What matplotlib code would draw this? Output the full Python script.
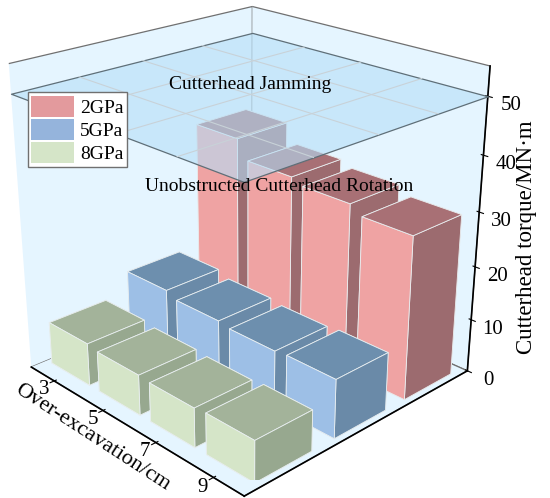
import matplotlib
matplotlib.use('Agg')
import matplotlib.pyplot as plt
from matplotlib.patches import Patch
from mpl_toolkits.mplot3d.art3d import Poly3DCollection

plt.rcParams['font.family'] = ['Liberation Serif', 'DejaVu Serif']

# data
over_excavation = [3, 5, 7, 9]
torque_2gpa = [36, 32.5, 31.5, 30]
torque_5gpa = [12, 11, 10.5, 10.8]
torque_8gpa = [8, 7.5, 7.2, 7.5]
jam_limit = 50

# left face, right face, top
colors_2gpa = ['#EFA3A3', '#9C6B6F', '#A87075']
colors_5gpa = ['#9DBFE6', '#6A8AA8', '#6D8FAE']
colors_8gpa = ['#D5E5C8', '#97A88F', '#A3B39A']

fig = plt.figure(figsize=(5.5, 4.98), dpi=100)
ax = fig.add_axes([-0.06, 0.036, 1.0, 1.0], projection='3d', computed_zorder=False)
ax.view_init(elev=23.2, azim=-44)
ax.set_proj_type('persp', focal_length=0.49)
ax.set_box_aspect((1, 1, 1.02), zoom=1.10)

xlim = (2, 10)
ylim = (0.52, 3.63)
ax.set_xlim(*xlim)
ax.set_ylim(*ylim)
ax.set_zlim(0, 55)

# bars, back row first
bar_w = 1.6
bar_d = 0.72
z = 2
for row, torque, cols in [(3.1, torque_2gpa, colors_2gpa),
                          (2.1, torque_5gpa, colors_5gpa),
                          (1.08, torque_8gpa, colors_8gpa)]:
    for xv, h in zip(over_excavation, torque):
        faces = [cols[0], cols[2], cols[0], cols[0], cols[0], cols[1]]
        ax.bar3d(xv - bar_w / 2, row - bar_d / 2, 0, bar_w, bar_d, h, color=faces,
                 shade=False, edgecolor='#E8EEF0', linewidth=0.6, zorder=z)
        z += 1

# the jamming plane
plane = Poly3DCollection([[(xlim[0], ylim[0], jam_limit), (xlim[1], ylim[0], jam_limit),
                           (xlim[1], ylim[1], jam_limit), (xlim[0], ylim[1], jam_limit)]],
                         facecolor=(0.71, 0.87, 0.97, 0.6), edgecolor='#5F6F78', linewidth=0.9, zorder=50)
ax.add_collection3d(plane)
for xv in [4, 6, 8]:
    ax.plot([xv, xv], ylim, [jam_limit, jam_limit], color='#C8D2D8', lw=0.8, zorder=51)
for yv in [1.3, 2.1, 2.9]:
    ax.plot(xlim, [yv, yv], [jam_limit, jam_limit], color='#C8D2D8', lw=0.8, zorder=51)

# panes
for axis in (ax.xaxis, ax.yaxis, ax.zaxis):
    axis.set_pane_color('#E5F5FF')
    axis.pane.set_edgecolor('#707070')
    axis.pane.set_linewidth(0.9)
    axis.line.set_color('black')
    axis.line.set_linewidth(1.2)
ax.grid(False)

ax.set_xticks(over_excavation)
ax.set_xticklabels([str(v) for v in over_excavation], ha='right', va='center')
ax.set_yticks([])
ax.set_zticks([0, 10, 20, 30, 40, 50])
ax.tick_params(axis='x', labelsize=15, pad=-4)
ax.tick_params(axis='z', labelsize=15, pad=1)

fig.text(0.455, 0.83, 'Cutterhead Jamming', fontsize=14, ha='center', va='center')
fig.text(0.508, 0.626, 'Unobstructed Cutterhead Rotation', fontsize=14, ha='center', va='center', zorder=60)
fig.text(0.958, 0.524, 'Cutterhead torque/MN·m', fontsize=16.5, rotation=90, ha='center', va='center')
fig.text(0.168, 0.122, 'Over-excavation/cm', fontsize=16, rotation=-33, ha='center', va='center')

handles = [Patch(facecolor='#E39A9D', label='2GPa'),
           Patch(facecolor='#95B4DC', label='5GPa'),
           Patch(facecolor='#D5E5C8', label='8GPa')]
fig.legend(handles=handles, loc='upper left', bbox_to_anchor=(0.05, 0.815), fontsize=14,
           fancybox=False, edgecolor='#707070', framealpha=1, borderpad=0.2,
           labelspacing=0.1, handlelength=2.2, handleheight=1.3, handletextpad=0.3, borderaxespad=0)

fig.savefig('out.png', dpi=100)
